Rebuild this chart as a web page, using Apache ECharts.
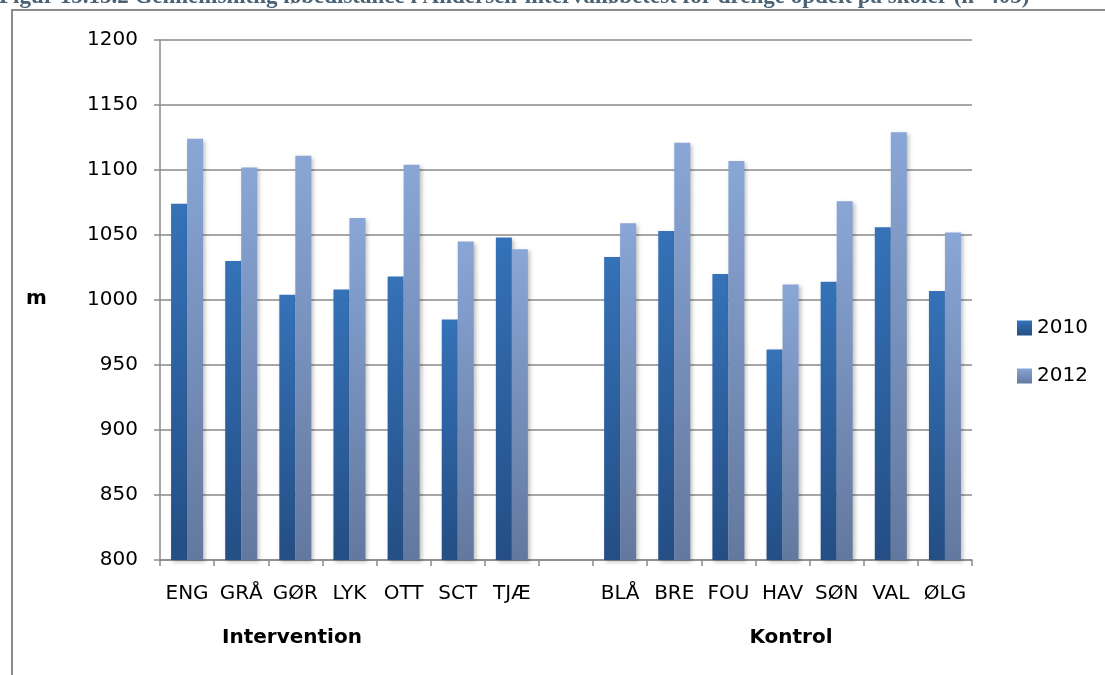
<!DOCTYPE html>
<html>
<head>
<meta charset="utf-8">
<script src="https://cdn.jsdelivr.net/npm/echarts@6/dist/echarts.min.js"></script>
<style>
  html, body { margin: 0; padding: 0; background: #fff; }
  #chart { width: 1105px; height: 675px; }
</style>
</head>
<body>
<div id="chart"></div>
<script>
// skoler (tom kategori mellem grupperne)
const schools = ["ENG", "GRÅ", "GØR", "LYK", "OTT", "SCT", "TJÆ", "", "BLÅ", "BRE", "FOU", "HAV", "SØN", "VAL", "ØLG"];
const values2010 = [1074, 1030, 1004, 1008, 1018, 985, 1048, null, 1033, 1053, 1020, 962, 1014, 1056, 1007];
const values2012 = [1124, 1102, 1111, 1063, 1104, 1045, 1039, null, 1059, 1121, 1107, 1012, 1076, 1129, 1052];
const groupLabels = ["Intervention", "Kontrol"];
const yTicks = { min: 800, max: 1200, interval: 50 };

const titleText = "Figur 15.15.2 Gennemsnitlig løbedistance i Andersen-intervalløbetest for drenge opdelt på skoler (n=405)";
const labelFont = "DejaVu Sans";
const gridColor = "#8a8a8a";

const chart = echarts.init(document.getElementById("chart"));

function grad(top, bottom) {
  return new echarts.graphic.LinearGradient(0, 0, 0, 1, [
    { offset: 0, color: top },
    { offset: 1, color: bottom },
  ]);
}

const barShadow = {
  shadowColor: "rgba(0, 0, 0, 0.25)",
  shadowBlur: 4,
  shadowOffsetX: 2,
  shadowOffsetY: 2,
};

chart.setOption({
  animation: false,
  backgroundColor: "#fff",
  grid: {
    left: 160,
    right: 133,
    top: 40,
    bottom: 115,
  },
  legend: {
    orient: "vertical",
    left: 1012,
    top: 313,
    itemWidth: 15,
    itemHeight: 15,
    itemGap: 28,
    icon: "rect",
    textStyle: {
      fontFamily: labelFont,
      fontSize: 20,
      color: "#000",
    },
    data: ["2010", "2012"],
  },
  xAxis: {
    type: "category",
    data: schools,
    axisLine: { lineStyle: { color: gridColor, width: 1.5 } },
    axisTick: { show: true, length: 6, lineStyle: { color: gridColor, width: 1.5 } },
    axisLabel: {
      fontFamily: labelFont,
      fontSize: 20,
      color: "#000",
      margin: 24,
      interval: 0,
    },
  },
  yAxis: {
    type: "value",
    min: yTicks.min,
    max: yTicks.max,
    interval: yTicks.interval,
    axisLine: { show: true, lineStyle: { color: gridColor, width: 1.5 } },
    axisTick: { show: true, length: 6, lineStyle: { color: gridColor, width: 1.5 } },
    splitLine: { lineStyle: { color: gridColor, width: 1.5 } },
    axisLabel: {
      fontFamily: labelFont,
      fontSize: 20,
      color: "#000",
      margin: 22,
      formatter: (v) => String(v),
    },
  },
  series: [
    {
      name: "2010",
      type: "bar",
      data: values2010,
      barWidth: 16,
      barGap: "0%",
      itemStyle: Object.assign({ color: grad("#3572b8", "#244e84") }, barShadow),
    },
    {
      name: "2012",
      type: "bar",
      data: values2012,
      barWidth: 16,
      itemStyle: Object.assign({ color: grad("#89a6d6", "#63789e") }, barShadow),
    },
  ],
  graphic: [
    {
      type: "rect",
      shape: { x: 12, y: 10, width: 1200, height: 700 },
      style: { fill: "none", stroke: "#8c8c8c", lineWidth: 2 },
      silent: true,
    },
    {
      type: "text",
      left: -1,
      top: -14,
      style: {
        text: titleText,
        font: "bold 23px 'Liberation Serif'",
        fill: "#4a6273",
      },
    },
    {
      type: "text",
      left: 26,
      top: 289,
      style: {
        text: "m",
        font: "bold 20px " + labelFont,
        fill: "#000",
      },
    },
    {
      type: "text",
      x: 292,
      y: 638,
      style: {
        text: groupLabels[0],
        font: "bold 20px " + labelFont,
        fill: "#000",
        align: "center",
        verticalAlign: "middle",
      },
    },
    {
      type: "text",
      x: 791,
      y: 638,
      style: {
        text: groupLabels[1],
        font: "bold 20px " + labelFont,
        fill: "#000",
        align: "center",
        verticalAlign: "middle",
      },
    },
  ],
});

window.addEventListener("resize", () => chart.resize());
</script>
</body>
</html>
